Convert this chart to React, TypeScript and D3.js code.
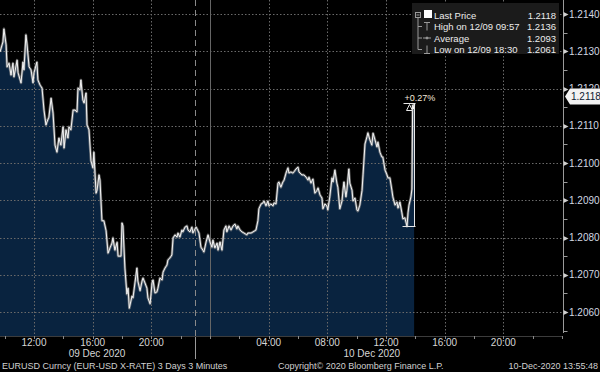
import React, { useRef, useEffect } from 'react';
import * as d3 from 'd3';

interface Point {
  t: Date;
  v: number;
}

const dec9Times = [
  '09:41', '09:53', '09:57', '10:06', '10:10', '10:18', '10:26', '10:34', '10:38', '10:51',
  '10:55', '11:07', '11:15', '11:19', '11:27', '11:31', '11:40', '11:48', '11:56', '12:00',
  '12:12', '12:16', '12:25', '12:33', '12:41', '12:49', '12:53', '13:01', '13:10', '13:18',
  '13:26', '13:34', '13:42', '13:50', '13:59', '14:03', '14:11', '14:19', '14:23', '14:31',
  '14:40', '14:48', '14:56', '15:00', '15:08', '15:12', '15:20', '15:25', '15:33', '15:37',
  '15:45', '15:53', '16:01', '16:05', '16:14', '16:18', '16:26', '16:30', '16:38', '16:46',
  '16:55', '17:03', '17:11', '17:19', '17:23', '17:31', '17:40', '17:44', '17:56', '18:00',
  '18:04', '18:12', '18:20', '18:25', '18:30', '18:41', '18:45', '18:53', '19:01', '19:05',
  '19:14', '19:22', '19:26', '19:34', '19:42', '19:46', '19:55', '20:03', '20:07', '20:15',
  '20:23', '20:27', '20:35', '20:44', '20:48', '20:56', '21:04', '21:08', '21:16', '21:24',
  '21:29', '21:37', '21:45', '21:49', '21:57', '22:05', '22:09', '22:18', '22:26', '22:30',
  '22:38', '22:46', '22:50', '23:03', '23:07', '23:15', '23:23', '23:31', '23:35', '23:44',
  '23:52',
];
const dec9Prices = [
  1.21298, 1.21325, 1.2136, 1.21317, 1.21258, 1.21268, 1.21236, 1.21268, 1.21231, 1.21276,
  1.21242, 1.21215, 1.21271, 1.2125, 1.21344, 1.21322, 1.21258, 1.2125, 1.21215, 1.21242,
  1.21271, 1.21223, 1.21209, 1.21201, 1.21142, 1.21102, 1.2111, 1.21123, 1.21174, 1.21134,
  1.21048, 1.21029, 1.21067, 1.21048, 1.21097, 1.2104, 1.21089, 1.21067, 1.21097, 1.21089,
  1.21142, 1.21142, 1.21137, 1.21201, 1.21196, 1.21223, 1.21169, 1.21161, 1.21188, 1.21102,
  1.21089, 1.21006, 1.20987, 1.21029, 1.20919, 1.20927, 1.20968, 1.20954, 1.20845, 1.20845,
  1.20818, 1.20758, 1.20772, 1.20785, 1.20799, 1.20766, 1.20787, 1.2075, 1.2075, 1.20839,
  1.20831, 1.20718, 1.20648, 1.20664, 1.2061, 1.20643, 1.20638, 1.20678, 1.20718, 1.20683,
  1.20657, 1.20683, 1.20691, 1.20678, 1.20664, 1.20638, 1.20622, 1.20678, 1.20686, 1.20651,
  1.20654, 1.20664, 1.20691, 1.20686, 1.20707, 1.20718, 1.20726, 1.2074, 1.20745, 1.20753,
  1.20799, 1.20807, 1.20801, 1.20812, 1.20801, 1.2082, 1.20815, 1.20828, 1.20831, 1.2082,
  1.20815, 1.20828, 1.20812, 1.20828, 1.20823, 1.20812, 1.20774, 1.20766, 1.20761, 1.20788,
  1.20807,
];
const dec10Times = [
  '00:00', '00:08', '00:12', '00:20', '00:29', '00:33', '00:41', '00:49', '00:57', '01:05',
  '01:09', '01:18', '01:26', '01:34', '01:42', '01:50', '01:54', '02:03', '02:11', '02:19',
  '02:31', '02:35', '02:48', '02:56', '03:08', '03:16', '03:20', '03:29', '03:37', '03:41',
  '03:49', '03:57', '04:01', '04:09', '04:18', '04:22', '04:30', '04:38', '04:42', '04:50',
  '04:58', '05:03', '05:11', '05:19', '05:23', '05:31', '05:39', '05:43', '05:52', '06:00',
  '06:04', '06:16', '06:24', '06:33', '06:41', '06:45', '06:53', '07:01', '07:09', '07:18',
  '07:22', '07:30', '07:38', '07:42', '07:50', '07:58', '08:02', '08:10', '08:19', '08:23',
  '08:31', '08:39', '08:43', '08:51', '09:00', '09:04', '09:08', '09:16', '09:20', '09:28',
  '09:32', '09:41', '09:45', '09:53', '10:01', '10:05', '10:13', '10:22', '10:26', '10:34',
  '10:42', '10:46', '10:54', '11:02', '11:07', '11:15', '11:23', '11:27', '11:35', '11:43',
  '11:47', '11:56', '12:04', '12:08', '12:16', '12:24', '12:28', '12:37', '12:45', '12:49',
  '12:57', '13:05', '13:09', '13:17', '13:26', '13:30', '13:34', '13:42', '13:46', '13:49',
  '13:52', '13:55',
];
const dec10Prices = [
  1.20788, 1.20774, 1.20793, 1.20772, 1.20785, 1.20766, 1.20788, 1.20766, 1.2082, 1.20831,
  1.20815, 1.20831, 1.2082, 1.20831, 1.20836, 1.20823, 1.20831, 1.2082, 1.20815, 1.20812,
  1.20807, 1.20812, 1.20812, 1.20815, 1.2082, 1.20845, 1.20877, 1.2089, 1.20893, 1.20898,
  1.20885, 1.20898, 1.20885, 1.2089, 1.20885, 1.20893, 1.2089, 1.20946, 1.20949, 1.20935,
  1.20949, 1.20954, 1.20973, 1.20987, 1.20973, 1.20976, 1.20973, 1.20976, 1.20984, 1.20989,
  1.20976, 1.20968, 1.20968, 1.20962, 1.20954, 1.20962, 1.20946, 1.20957, 1.20919, 1.20927,
  1.20933, 1.20914, 1.20906, 1.20877, 1.2089, 1.20885, 1.20874, 1.20909, 1.2096, 1.20949,
  1.20981, 1.20946, 1.20935, 1.20877, 1.20898, 1.20927, 1.20949, 1.20909, 1.20927, 1.20984,
  1.20946, 1.20927, 1.20898, 1.20906, 1.20874, 1.20871, 1.20887, 1.20927, 1.20968, 1.21051,
  1.2107, 1.21081, 1.21062, 1.21048, 1.2108, 1.21062, 1.21043, 1.21056, 1.21029, 1.21016,
  1.21016, 1.20981, 1.20968, 1.2096, 1.2096, 1.20927, 1.20909, 1.20887, 1.20895, 1.20879,
  1.20895, 1.20866, 1.2085, 1.20853, 1.2083, 1.20866, 1.20887, 1.20909, 1.2093, 1.21155,
  1.21145, 1.2116,
];

const yTicks = [1.206, 1.207, 1.208, 1.209, 1.21, 1.211, 1.212, 1.213, 1.214];
const xTickTimes = [
  '2020-12-09 12:00', '2020-12-09 16:00', '2020-12-09 20:00',
  '2020-12-10 04:00', '2020-12-10 08:00', '2020-12-10 12:00', '2020-12-10 16:00', '2020-12-10 20:00',
];
const dayLabels = ['09 Dec 2020', '10 Dec 2020'];
const dayLabelTimes = ['2020-12-09 16:18', '2020-12-10 11:02'];
const sessionBreak = '2020-12-09 23:00';
const midnight = '2020-12-10 00:00';
const legendLabels = ['Last Price', 'High on 12/09 09:57', 'Average', 'Low on 12/09 18:30'];
const legendValues = ['1.2118', '1.2136', '1.2093', '1.2061'];
const lastPrice = 1.2118;
const footerLeft = 'EURUSD Curncy (EUR-USD X-RATE) 3 Days 3 Minutes';
const footerMid = 'Copyright\u00a9 2020 Bloomberg Finance L.P.';
const footerRight = '10-Dec-2020 13:55:48';

const FONT = '"Liberation Sans", Arial, sans-serif';

const App: React.FC = () => {
  const svgRef = useRef<SVGSVGElement | null>(null);

  useEffect(() => {
    const W = 600;
    const H = 372;
    const right = 563;
    const bottom = 336;
    const parse = d3.timeParse('%Y-%m-%d %H:%M');

    const data: Point[] = [
      ...dec9Times.map((t, i) => ({ t: parse('2020-12-09 ' + t)!, v: dec9Prices[i] })),
      ...dec10Times.map((t, i) => ({ t: parse('2020-12-10 ' + t)!, v: dec10Prices[i] })),
    ];

    const svg = d3.select(svgRef.current!);
    svg.selectAll('*').remove();
    svg.attr('width', W).attr('height', H);

    const x = d3.scaleTime()
      .domain([parse('2020-12-09 09:41')!, parse('2020-12-11 00:04')!])
      .range([0, right]);
    const y = d3.scaleLinear().domain([1.206, 1.214]).range([312, 14]);

    svg.append('rect').attr('width', W).attr('height', H).attr('fill', '#000');

    // area under the price
    svg.append('path')
      .datum(data)
      .attr('d', d3.area<Point>().x((d) => x(d.t)).y0(bottom).y1((d) => y(d.v)))
      .attr('fill', '#09233f');

    // dotted grid
    const grid = svg.append('g')
      .attr('stroke', '#6a6a6a')
      .attr('stroke-width', 1)
      .attr('stroke-dasharray', '1.5,2');
    grid.selectAll('line.h')
      .data(yTicks)
      .enter()
      .append('line')
      .attr('x1', 0)
      .attr('x2', right)
      .attr('y1', (d) => Math.round(y(d)) + 0.5)
      .attr('y2', (d) => Math.round(y(d)) + 0.5);
    grid.selectAll('line.v')
      .data(xTickTimes)
      .enter()
      .append('line')
      .attr('x1', (d) => Math.round(x(parse(d)!)) + 0.5)
      .attr('x2', (d) => Math.round(x(parse(d)!)) + 0.5)
      .attr('y1', 0)
      .attr('y2', bottom);

    // midnight and session separators
    const xm = Math.round(x(parse(midnight)!)) + 0.5;
    svg.append('line')
      .attr('x1', xm).attr('x2', xm).attr('y1', 0).attr('y2', bottom)
      .attr('stroke', '#666');
    const xs = Math.round(x(parse(sessionBreak)!)) + 0.5;
    svg.append('line')
      .attr('x1', xs).attr('x2', xs).attr('y1', 0).attr('y2', bottom)
      .attr('stroke', '#8a8a8a')
      .attr('stroke-dasharray', '6,4');
    svg.append('line')
      .attr('x1', xs).attr('x2', xs).attr('y1', bottom).attr('y2', 359)
      .attr('stroke', '#9a9a9a');

    // price line with a soft glow
    const line = d3.line<Point>().x((d) => x(d.t)).y((d) => y(d.v));
    svg.append('path')
      .datum(data)
      .attr('d', line)
      .attr('fill', 'none')
      .attr('stroke', '#8c8c8c')
      .attr('stroke-width', 2.6)
      .attr('stroke-opacity', 0.7)
      .attr('stroke-linejoin', 'round');
    svg.append('path')
      .datum(data)
      .attr('d', line)
      .attr('fill', 'none')
      .attr('stroke', '#f4f4f4')
      .attr('stroke-width', 1)
      .attr('stroke-linejoin', 'round');

    // change bracket over the last hour
    const last = data[data.length - 1];
    const recent = data.slice(-12);
    const low = d3.min(recent, (d) => d.v)!;
    const xl = Math.round(x(last.t)) + 0.5;
    const yTop = Math.round(y(last.v)) + 0.5;
    const yLow = Math.round(y(low)) + 0.5;
    const br = svg.append('g').attr('stroke', '#e6e6e6').attr('stroke-width', 1).attr('fill', 'none');
    br.append('line').attr('x1', xl - 11).attr('x2', xl + 1).attr('y1', yTop).attr('y2', yTop);
    br.append('line').attr('x1', xl - 12).attr('x2', xl + 1).attr('y1', yLow).attr('y2', yLow);
    br.append('line').attr('x1', xl).attr('x2', xl).attr('y1', yTop).attr('y2', yLow);
    br.append('path')
      .attr('d', `M${xl - 5},${yTop + 1} L${xl - 8},${yTop + 7} L${xl - 2},${yTop + 7} Z`)
      .attr('fill', '#000');
    const pct = (last.v / low - 1) * 100;
    svg.append('text')
      .attr('x', xl - 10)
      .attr('y', yTop - 3)
      .attr('font-family', FONT)
      .attr('font-size', 9)
      .attr('fill', '#f3e8da')
      .text(`${pct >= 0 ? '+' : ''}${pct.toFixed(2)}%`);

    // bottom axis
    svg.append('line')
      .attr('x1', 0).attr('x2', right).attr('y1', bottom + 0.5).attr('y2', bottom + 0.5)
      .attr('stroke', '#3c3c3c');
    const [d0, d1] = x.domain();
    svg.append('g')
      .selectAll('line')
      .data(d3.timeHour.every(2)!.range(d0, d1))
      .enter()
      .append('line')
      .attr('x1', (d) => Math.round(x(d)) + 0.5)
      .attr('x2', (d) => Math.round(x(d)) + 0.5)
      .attr('y1', bottom)
      .attr('y2', bottom + 3)
      .attr('stroke', '#8a8a8a');
    svg.append('g')
      .selectAll('text')
      .data(xTickTimes)
      .enter()
      .append('text')
      .attr('x', (d) => x(parse(d)!))
      .attr('y', 346)
      .attr('text-anchor', 'middle')
      .attr('font-family', FONT)
      .attr('font-size', 10)
      .attr('fill', '#d6d6d6')
      .text((d) => d3.timeFormat('%H:%M')(parse(d)!));
    svg.append('g')
      .selectAll('text')
      .data(dayLabels)
      .enter()
      .append('text')
      .attr('x', (_d, i) => x(parse(dayLabelTimes[i])!))
      .attr('y', 357)
      .attr('text-anchor', 'middle')
      .attr('font-family', FONT)
      .attr('font-size', 10)
      .attr('fill', '#d6d6d6')
      .text((d) => d);

    // right axis
    const ax = right + 0.5;
    const yp = Math.round(y(lastPrice)) + 0.5;
    svg.append('line')
      .attr('x1', ax).attr('x2', ax).attr('y1', 0).attr('y2', 333)
      .attr('stroke', '#9a9a9a');
    const minor = yTicks.map((d) => d - 0.0005).concat([yTicks[yTicks.length - 1] + 0.0005]);
    svg.append('g')
      .selectAll('line')
      .data(minor)
      .enter()
      .append('line')
      .attr('x1', ax)
      .attr('x2', ax + 4)
      .attr('y1', (d) => Math.round(y(d)) + 0.5)
      .attr('y2', (d) => Math.round(y(d)) + 0.5)
      .attr('stroke', '#9a9a9a');
    svg.append('g')
      .selectAll('path')
      .data(yTicks)
      .enter()
      .append('path')
      .attr('d', (d) => {
        const yy = Math.round(y(d)) + 0.5;
        return `M${ax},${yy - 2.5} L${ax + 5},${yy} L${ax},${yy + 2.5} Z`;
      })
      .attr('fill', '#d0d0d0');
    // labels hidden behind the last-price tag are clipped to what peeks out above it
    svg.append('clipPath')
      .attr('id', 'tagclip')
      .append('rect')
      .attr('x', 565).attr('y', 0).attr('width', 35).attr('height', yp - 8);
    const yl = svg.append('g');
    yTicks.forEach((d) => {
      const hidden = Math.abs(y(d) - yp) < 12;
      yl.append('text')
        .attr('x', 569)
        .attr('y', y(d) + 3.5)
        .attr('font-family', FONT)
        .attr('font-size', 10)
        .attr('fill', '#d2d8e2')
        .attr('clip-path', hidden ? 'url(#tagclip)' : null)
        .text(d.toFixed(4));
    });

    // last price tag
    svg.append('path')
      .attr('d', `M565,${yp} L570,${yp - 8} L600,${yp - 8} L600,${yp + 8} L570,${yp + 8} Z`)
      .attr('fill', '#f2f2f2');
    svg.append('text')
      .attr('x', 571)
      .attr('y', yp + 3.5)
      .attr('font-family', FONT)
      .attr('font-size', 10)
      .attr('fill', '#0c1a33')
      .text(lastPrice.toFixed(4));

    // legend
    const lg = svg.append('g');
    lg.append('rect')
      .attr('x', 412).attr('y', 3).attr('width', 147).attr('height', 51)
      .attr('fill', '#1b1b1b');
    const rowY = [15, 26.5, 38, 49.5];
    const ic = lg.append('g').attr('stroke', '#9a9a9a').attr('fill', 'none');
    ic.append('rect').attr('x', 415.5).attr('y', 12.5).attr('width', 5).attr('height', 5);
    ic.append('line').attr('x1', 416.5).attr('x2', 419.5).attr('y1', 15).attr('y2', 15);
    ic.append('line').attr('x1', 418).attr('x2', 418).attr('y1', 18).attr('y2', rowY[3]);
    rowY.slice(1).forEach((ry) => {
      ic.append('line').attr('x1', 418).attr('x2', 422).attr('y1', ry).attr('y2', ry);
    });
    lg.append('rect').attr('x', 424).attr('y', 10).attr('width', 8).attr('height', 8).attr('fill', '#fff');
    ic.append('line').attr('x1', 424).attr('x2', 430).attr('y1', rowY[1] - 4).attr('y2', rowY[1] - 4);
    ic.append('line').attr('x1', 427).attr('x2', 427).attr('y1', rowY[1] - 4).attr('y2', rowY[1] + 4);
    ic.append('line').attr('x1', 423).attr('x2', 431).attr('y1', rowY[2]).attr('y2', rowY[2]);
    ic.append('circle').attr('cx', 427).attr('cy', rowY[2]).attr('r', 1).attr('fill', '#9a9a9a');
    ic.append('line').attr('x1', 424).attr('x2', 430).attr('y1', rowY[3] + 4).attr('y2', rowY[3] + 4);
    ic.append('line').attr('x1', 427).attr('x2', 427).attr('y1', rowY[3] - 4).attr('y2', rowY[3] + 4);
    legendLabels.forEach((label, i) => {
      lg.append('text')
        .attr('x', 434)
        .attr('y', rowY[i] + 3.5)
        .attr('font-family', FONT)
        .attr('font-size', 9.5)
        .attr('fill', '#ececec')
        .text(label);
      lg.append('text')
        .attr('x', 556)
        .attr('y', rowY[i] + 3.5)
        .attr('text-anchor', 'end')
        .attr('font-family', FONT)
        .attr('font-size', 9.5)
        .attr('fill', '#ececec')
        .text(legendValues[i]);
    });

    // footer
    const foot = svg.append('g')
      .attr('font-family', FONT)
      .attr('font-size', 9)
      .attr('fill', '#d0d0d0');
    foot.append('text').attr('x', 2).attr('y', 369).text(footerLeft);
    foot.append('text').attr('x', 278).attr('y', 369).text(footerMid);
    foot.append('text').attr('x', 598).attr('y', 369).attr('text-anchor', 'end').text(footerRight);
  }, []);

  return (
    <div style={{ position: 'absolute', left: 0, top: 0, width: 600, height: 372, background: '#000' }}>
      <svg ref={svgRef} style={{ display: 'block' }}></svg>
    </div>
  );
};

export default App;
